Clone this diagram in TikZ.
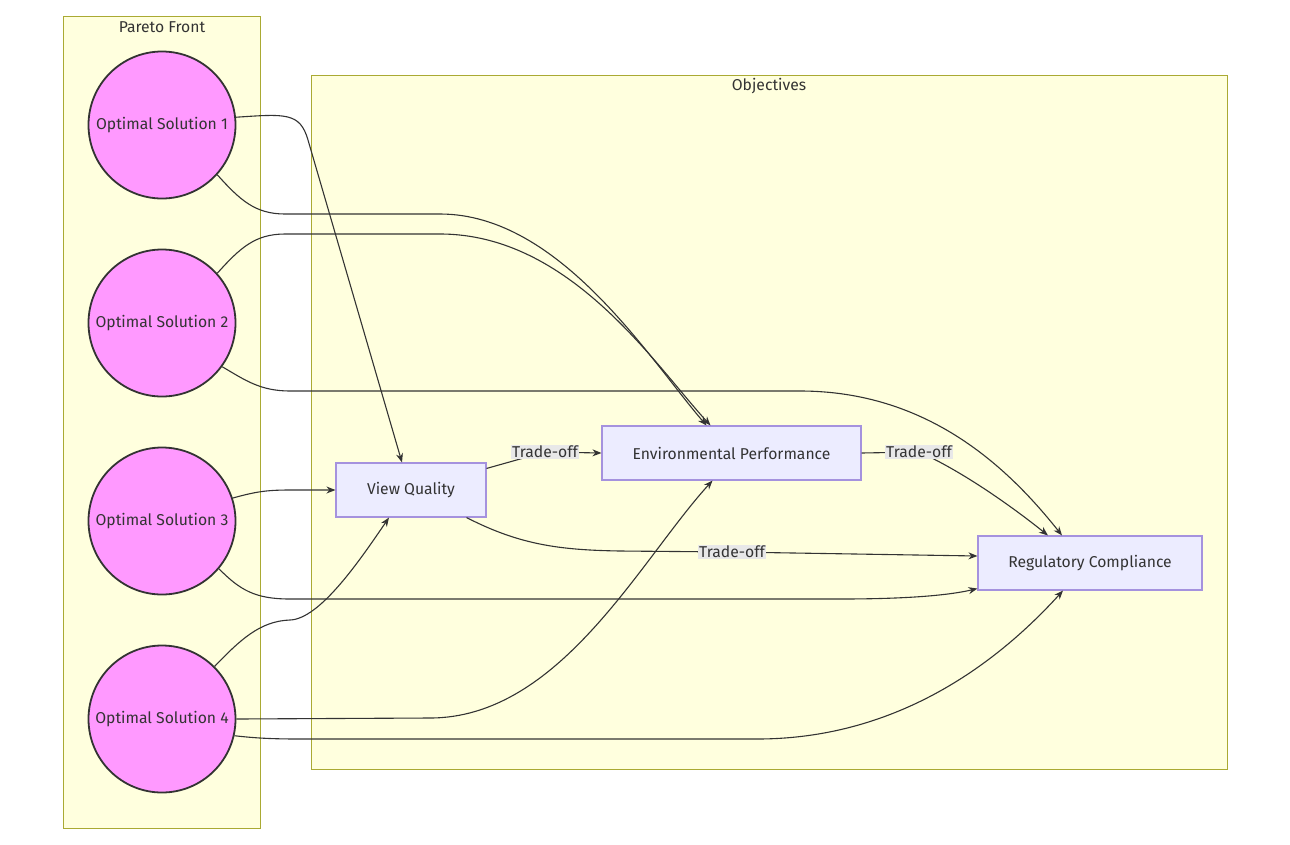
\documentclass[tikz,border=0pt]{standalone}
\usepackage{fontspec}
\setmainfont{Fira Sans}
\usepackage{tikz}
\usepackage{xcolor}
\usetikzlibrary{shapes,positioning,arrows.meta}

\definecolor{clusterfill}{HTML}{FFFFDE}
\definecolor{clusterline}{HTML}{AAAA33}
\definecolor{boxfill}{HTML}{ECECFF}
\definecolor{boxline}{HTML}{A592DE}
\definecolor{solfill}{HTML}{FF99FF}
\definecolor{ink}{HTML}{333333}
\definecolor{lblfill}{HTML}{E8E8E8}

\begin{document}
\begin{tikzpicture}[x=1pt, y=-1pt,
        font=\fontsize{15.7}{18}\selectfont, text=ink,
        cluster/.style={rectangle, fill=clusterfill, draw=clusterline, line width=1pt},
        solution/.style={circle, fill=solfill, draw=ink, line width=1.8pt, minimum size=147pt, inner sep=0pt},
        objective/.style={rectangle, fill=boxfill, draw=boxline, line width=1.1pt, minimum height=54pt},
        flow/.style={draw=ink, line width=1.1pt, -{Stealth[length=9pt, width=7pt]}},
        tradeoff/.style={fill=lblfill, inner sep=1.5pt, text=ink}
    ]
        \useasboundingbox (0,0) rectangle (1290,844);

        % Clusters
        \draw[cluster] (63,16) rectangle (260,828);
        \node (pftitle) at (162,27) {Pareto Front};
        \draw[cluster] (311,75) rectangle (1227,769);
        \node (objtitle) at (769,86) {Objectives};

        % Pareto solutions
        \node[solution] (s1) at (162,125) {Optimal Solution 1};
        \node[solution] (s2) at (162,323) {Optimal Solution 2};
        \node[solution] (s3) at (162,521) {Optimal Solution 3};
        \node[solution] (s4) at (162,719) {Optimal Solution 4};

        % Objectives
        \node[objective, minimum width=150pt] (vq) at (411,490) {View Quality};
        \node[objective, minimum width=259pt] (ep) at (731.5,453) {Environmental Performance};
        \node[objective, minimum width=224pt] (rc) at (1090,563) {Regulatory Compliance};

        % Label positions
        \coordinate (t1) at (545,452);
        \coordinate (t2) at (732,552);
        \coordinate (t3) at (919,452);

        % Solutions to objectives
        \draw[flow] (s1.6) .. controls (285,114) and (300,112) .. (308,140) -- ([xshift=-9pt]vq.north);
        \draw[flow] (s1.-42) .. controls (240,200) and (255,214) .. (285,214) -- (440,214)
            .. controls (560,214) and (650,360) .. ([xshift=-25pt]ep.north);
        \draw[flow] (s2.42) .. controls (240,248) and (255,234) .. (285,234) -- (440,234)
            .. controls (570,234) and (655,365) .. ([xshift=-21pt]ep.north);
        \draw[flow] (s2.-36) .. controls (245,380) and (260,391) .. (290,391) -- (800,391)
            .. controls (930,391) and (1010,470) .. ([xshift=-28pt]rc.north);
        \draw[flow] (s3.18) .. controls (255,492) and (265,490) .. (290,490) -- (vq.west);
        \draw[flow] (s3.-40) .. controls (240,590) and (255,599) .. (290,599) -- (840,599)
            .. controls (910,599) and (950,595) .. ([yshift=2pt]rc.south west);
        \draw[flow] (s4.45) .. controls (240,640) and (260,621) .. (290,620)
            .. controls (320,619) and (360,560) .. ([xshift=-22pt]vq.south);
        \draw[flow] (s4.0) -- (430,718) .. controls (560,718) and (640,560) .. ([xshift=-19pt]ep.south);
        \draw[flow] (s4.-13) .. controls (255,738) and (270,739) .. (300,739) -- (757,739)
            .. controls (900,739) and (1000,660) .. ([xshift=-27pt]rc.south);

        % Trade-offs
        \draw[flow] ([yshift=-6pt]vq.north east) -- (t1) -- (ep.west);
        \draw[flow] ([xshift=-20pt]vq.south east) .. controls (520,545) and (560,550) .. (620,551)
            -- (t2) -- ([yshift=7pt]rc.west);
        \draw[flow] (ep.east) -- (t3) .. controls (960,470) and (1010,505) .. ([xshift=-42pt]rc.north);

        \node[tradeoff] (lbl1) at (t1) {Trade-off};
        \node[tradeoff] (lbl2) at (t2) {Trade-off};
        \node[tradeoff] (lbl3) at (t3) {Trade-off};
    \end{tikzpicture}
\end{document}
